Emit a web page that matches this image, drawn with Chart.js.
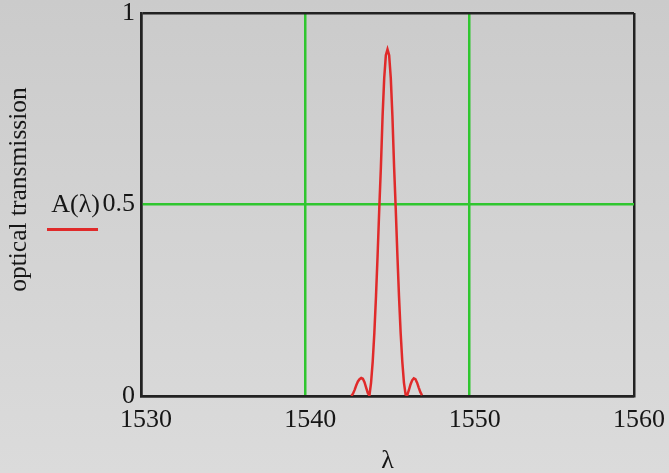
<!DOCTYPE html>
<html><head><meta charset="utf-8">
<script src="https://cdn.jsdelivr.net/npm/chart.js@4/dist/chart.umd.min.js"></script>
<style>
html,body{margin:0;padding:0;}
body{width:669px;height:473px;background:linear-gradient(#cbcbcb,#dbdbdb);overflow:hidden;}
#wrap{position:relative;width:669px;height:473px;}
</style></head><body>
<div id="wrap"><canvas id="c"></canvas></div>
<script>
// wavelength (nm) and A(λ)
const lambda = [1542.8,1542.9,1543.0,1543.1,1543.2,1543.3,1543.4,1543.5,1543.6,1543.7,1543.8,1543.9,
  1544.0,1544.1,1544.2,1544.3,1544.4,1544.5,1544.6,1544.7,1544.8,1544.9,1545.0,
  1545.1,1545.2,1545.3,1545.4,1545.5,1545.6,1545.7,1545.8,1545.9,1546.0,
  1546.1,1546.2,1546.3,1546.4,1546.5,1546.6,1546.7,1546.8,1546.9,1547.0,1547.1];
const trans = [0.0,0.006,0.016,0.028,0.038,0.044,0.047,0.045,0.036,0.022,0.008,0.001,
  0.035,0.09,0.165,0.26,0.37,0.49,0.60,0.73,0.83,0.89,0.905,
  0.89,0.83,0.73,0.60,0.49,0.37,0.26,0.165,0.09,0.035,
  0.004,0.002,0.015,0.03,0.041,0.046,0.044,0.035,0.022,0.01,0.002];
const xTicks = [1530,1540,1550,1560];
const yTicks = [0,0.5,1];
const traceName = 'A(\u03bb)';
const yTitle = 'optical transmission';
const xTitle = '\u03bb';

const red = '#e02a2a', green = '#2fc62f', ink = '#161616';
const serif = '"Liberation Serif", "DejaVu Serif", serif';

const extras = {
  id: 'extras',
  afterDraw(chart) {
    const { ctx, chartArea, scales: { y } } = chart;
    const yc = y.getPixelForValue(0.5);
    ctx.save();
    ctx.font = '26px ' + serif;
    ctx.fillStyle = ink;
    ctx.textAlign = 'right'; ctx.textBaseline = 'middle';
    ctx.fillText(traceName, chartArea.left - 41, yc + 1);
    ctx.strokeStyle = red; ctx.lineWidth = 3;
    ctx.beginPath(); ctx.moveTo(47, yc + 25); ctx.lineTo(98, yc + 25); ctx.stroke();
    ctx.font = '25.5px ' + serif;
    ctx.translate(19, (chartArea.top + chartArea.bottom) / 2 - 15);
    ctx.rotate(-Math.PI / 2);
    ctx.textAlign = 'center';
    ctx.fillText(yTitle, 0, 0);
    ctx.restore();
  }
};

new Chart(document.getElementById('c'), {
  type: 'line',
  data: { datasets: [{ data: lambda.map((x, i) => ({ x, y: trans[i] })), borderColor: red, borderWidth: 2.5,
    pointRadius: 0, tension: 0, fill: false }] },
  options: {
    responsive: true, maintainAspectRatio: false, animation: false,
    layout: { padding: { left: 0, right: 35, top: 13, bottom: 0 } },
    plugins: { legend: { display: false }, tooltip: { enabled: false } },
    scales: {
      x: {
        type: 'linear', min: 1530, max: 1560,
        afterBuildTicks: s => { s.ticks = xTicks.map(v => ({ value: v })); },
        afterFit: s => { s.height = 77; s.paddingLeft = 0; s.paddingRight = 0; },
        ticks: { color: ink, font: { family: serif, size: 26 }, padding: 9, labelOffset: 5, maxRotation: 0, callback: v => String(v) },
        grid: { drawTicks: false, lineWidth: 2.5, color: c => (c.tick && (c.tick.value === 1540 || c.tick.value === 1550)) ? green : '#222' },
        border: { color: '#222', width: 2.5 },
        title: { display: true, text: xTitle, color: ink, font: { family: serif, size: 26 }, padding: { top: 0, bottom: -4 } }
      },
      y: {
        min: 0, max: 1,
        afterBuildTicks: s => { s.ticks = yTicks.map(v => ({ value: v })); },
        afterFit: s => { s.width = 141; s.paddingTop = 0; s.paddingBottom = 0; },
        ticks: { color: ink, font: { family: serif, size: 26, lineHeight: 1 }, padding: 6, callback: v => String(v) },
        grid: { drawTicks: false, lineWidth: 2.5, color: c => (c.tick && c.tick.value === 0.5) ? green : '#222' },
        border: { color: '#222', width: 2.5 }
      }
    }
  },
  plugins: [extras]
});
</script>
</body></html>
